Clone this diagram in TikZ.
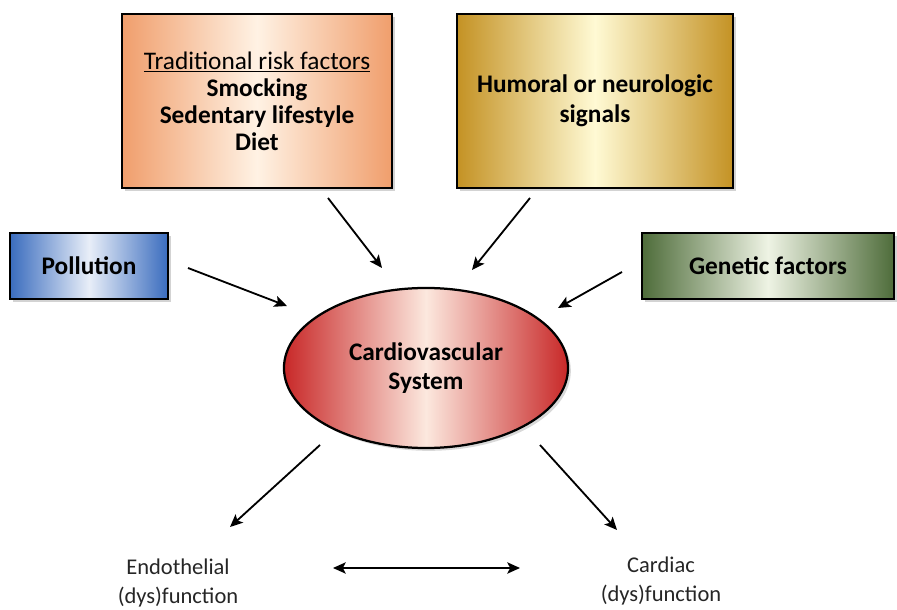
\documentclass[tikz,border=0pt]{standalone}
\usepackage{fontspec}
\setmainfont{Carlito}
\usetikzlibrary{shapes.geometric,shadows,arrows.meta}

\definecolor{trad}{RGB}{240,158,108}
\definecolor{tradlight}{RGB}{255,242,228}
\definecolor{humor}{RGB}{196,146,36}
\definecolor{humorlight}{RGB}{255,250,212}
\definecolor{pollu}{RGB}{58,108,190}
\definecolor{pollulight}{RGB}{232,238,248}
\definecolor{genet}{RGB}{78,108,58}
\definecolor{genetlight}{RGB}{238,243,228}
\definecolor{cardio}{RGB}{200,40,40}
\definecolor{cardiolight}{RGB}{252,232,222}

\tikzset{
  factor/.style={draw=black, line width=2pt, align=center, font=\bfseries\fontsize{18}{21}\selectfont,
    drop shadow={shadow xshift=2pt, shadow yshift=-2pt, opacity=0.35}},
  arrow/.style={-{Stealth[length=9pt,width=8pt,inset=2pt]}, line width=1.3pt},
  outcome/.style={align=center, font=\fontsize{16}{21}\selectfont, text=black!85}
}

\begin{document}
\begin{tikzpicture}[x=0.025cm,y=-0.025cm]
  \useasboundingbox (0,0) rectangle (897,610);

  % Draw the factor boxes
  \node[factor, minimum width=6.75cm, minimum height=4.35cm, font=\bfseries\fontsize{18}{19.2}\selectfont,
        left color=trad, right color=trad, middle color=tradlight] (trad) at (257,101)
        {\mdseries\underline{Traditional risk factors}\\Smocking\\Sedentary lifestyle\\Diet};
  \node[factor, minimum width=6.9cm, minimum height=4.35cm,
        left color=humor, right color=humor, middle color=humorlight] (humoral) at (595,101)
        {Humoral or neurologic\\signals};
  \node[factor, minimum width=3.95cm, minimum height=1.65cm,
        left color=pollu, right color=pollu, middle color=pollulight] (pollution) at (89,266)
        {Pollution};
  \node[factor, minimum width=6.3cm, minimum height=1.65cm,
        left color=genet, right color=genet, middle color=genetlight] (genetic) at (768,266)
        {Genetic factors};

  % Draw the central ellipse
  \node[ellipse, draw=black, line width=1.6pt, minimum width=7.1cm, minimum height=4.0cm,
        left color=cardio, right color=cardio, middle color=cardiolight, align=center,
        font=\bfseries\fontsize{18}{21}\selectfont,
        drop shadow={shadow xshift=2pt, shadow yshift=-2pt, opacity=0.3}] (cvs) at (426,368)
        {Cardiovascular\\System};

  % Add outcome labels
  \node[outcome] (endo) at (178,583) {Endothelial\\(dys)function};
  \node[outcome] (cardiac) at (661,581) {Cardiac\\(dys)function};

  % Arrow ends
  \coordinate (t1) at (328,198);  \coordinate (t2) at (382,268);
  \coordinate (h1) at (530,198);  \coordinate (h2) at (472,270);
  \coordinate (p1) at (188,268);  \coordinate (p2) at (287,306);
  \coordinate (g1) at (622,272);  \coordinate (g2) at (558,308);
  \coordinate (e1) at (320,445);  \coordinate (e2) at (230,527);
  \coordinate (c1) at (540,445);  \coordinate (c2) at (617,530);
  \coordinate (d1) at (333,568);  \coordinate (d2) at (520,568);

  % Draw arrows
  \draw[arrow] (t1) -- (t2);
  \draw[arrow] (h1) -- (h2);
  \draw[arrow] (p1) -- (p2);
  \draw[arrow] (g1) -- (g2);
  \draw[arrow] (e1) -- (e2);
  \draw[arrow] (c1) -- (c2);
  \draw[arrow, {Stealth[length=9pt,width=8pt,inset=2pt]}-{Stealth[length=9pt,width=8pt,inset=2pt]}] (d1) -- (d2);
\end{tikzpicture}
\end{document}
